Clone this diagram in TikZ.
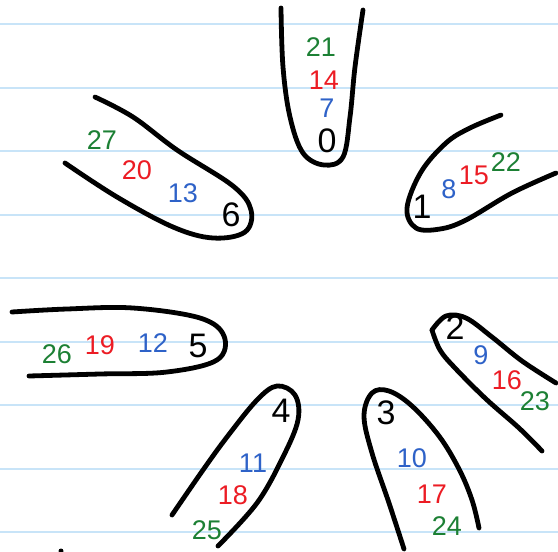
\documentclass[tikz,border=0pt]{standalone}
\usepackage{fontspec}
\setmainfont{Liberation Sans}
\usepackage{xcolor}
\usetikzlibrary{positioning}

\definecolor{ruleblue}{RGB}{200,228,248}
\definecolor{penred}{RGB}{236,28,36}
\definecolor{pengreen}{RGB}{28,128,52}
\definecolor{penblue}{RGB}{46,98,200}

\begin{document}
\begin{tikzpicture}[
    x=1pt, y=-1pt,
    ruleline/.style={ruleblue, line width=2pt},
    finger/.style={line width=4.8pt, line cap=round, line join=round},
    res/.style={inner sep=0pt, font=\fontsize{34}{34}\selectfont},
    num/.style={inner sep=0pt, font=\fontsize{27}{27}\selectfont},
    k0/.style={num, pengreen},
    k1/.style={num, penred},
    k2/.style={num, penblue}
]
\useasboundingbox (0,0) rectangle (558,552);
\fill[white] (0,0) rectangle (558,552);

% ruled paper
\foreach \k in {0,...,8}
    \draw[ruleline] (0,24+63.5*\k) -- (558,24+63.5*\k);

% fingers
\draw[finger] plot[smooth, tension=0.6] coordinates {(281,8) (283,67) (290,117) (303,153) (324,165) (343,157) (350,117) (355,67) (363,10)};
\draw[finger] plot[smooth, tension=0.6] coordinates {(501,115) (470,128) (446,143) (421,172) (407,208) (416,228) (440,229) (466,220) (512,193) (556,173)};
\draw[finger] plot[smooth, tension=0.6] coordinates {(432,330) (446,316) (466,318) (492,337) (522,361) (556,383)};
\draw[finger] plot[smooth, tension=0.6] coordinates {(432,330) (440,350) (455,368) (486,399) (519,428) (542,451)};
\draw[finger] plot[smooth, tension=0.6] coordinates {(404,549) (389,503) (372,453) (364,416) (372,393) (389,391) (412,406) (439,436) (459,469) (472,500) (479,528)};
\draw[finger] plot[smooth, tension=0.6] coordinates {(172,515) (203,470) (227,437) (257,400) (277,386) (295,395) (298,420) (283,457) (257,503) (218,546)};
\draw[finger] plot[smooth, tension=0.6] coordinates {(12,312) (67,309) (133,308) (200,318) (224,336) (217,360) (167,372) (100,374) (29,376)};
\draw[finger] plot[smooth, tension=0.6] coordinates {(95,97) (133,117) (177,150) (233,186) (251,210) (245,232) (213,238) (173,227) (117,197) (65,163)};
\fill (61,551) circle[radius=2.5pt];

% residues
\node[res] (r0) at (327,141) {0};
\node[res] (r1) at (422,207) {1};
\node[res] (r2) at (455,328) {2};
\node[res] (r3) at (386,413) {3};
\node[res] (r4) at (281,411) {4};
\node[res] (r5) at (198,346) {5};
\node[res] (r6) at (231,215) {6};

% multiples of seven added
\node[k2] (n7)  at (327,108) {7};
\node[k1] (n14) at (324,80)  {14};
\node[k0] (n21) at (321,47)  {21};

\node[k2] (n8)  at (449,189) {8};
\node[k1] (n15) at (474,175) {15};
\node[k0] (n22) at (506,162) {22};

\node[k2] (n9)  at (481,355) {9};
\node[k1] (n16) at (507,380) {16};
\node[k0] (n23) at (535,401) {23};

\node[k2] (n10) at (412,458) {10};
\node[k1] (n17) at (432,494) {17};
\node[k0] (n24) at (447,526) {24};

\node[k2] (n11) at (253,463) {11};
\node[k1] (n18) at (233,495) {18};
\node[k0] (n25) at (207,530) {25};

\node[k2] (n12) at (153,343) {12};
\node[k1] (n19) at (100,345) {19};
\node[k0] (n26) at (57,354)  {26};

\node[k2] (n13) at (183,193) {13};
\node[k1] (n20) at (137,170) {20};
\node[k0] (n27) at (102,140) {27};
\end{tikzpicture}
\end{document}
